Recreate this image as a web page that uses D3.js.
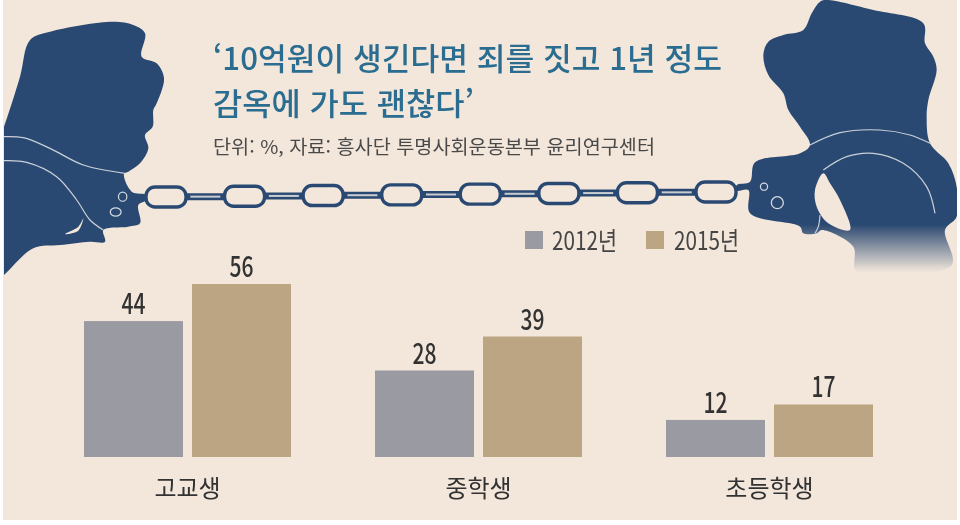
<!DOCTYPE html>
<html lang="ko"><head><meta charset="utf-8">
<script src="https://cdn.jsdelivr.net/npm/d3@7"></script>
<style>
html,body{margin:0;padding:0;background:#fff;overflow:hidden}
svg{display:block}
text{font-family:"Noto Sans CJK KR","Noto Sans",sans-serif}
</style></head><body>
<svg id="c" width="960" height="525"></svg>
<script>
const categories = ["고교생","중학생","초등학생"];
const seriesNames = ["2012년","2015년"];
const values2012 = [44,28,12];
const values2015 = [56,39,17];
const seriesColors = ["#9a9ba2","#bba583"];
const titleLines = ["‘10억원이 생긴다면 죄를 짓고 1년 정도","감옥에 가도 괜찮다’"];
const subtitle = "단위: %, 자료: 흥사단 투명사회운동본부 윤리연구센터";

const navy="#2c4a72", bg="#f3e7db";
const svg=d3.select("#c");
const defs=svg.append("defs");
defs.append("filter").attr("id","soft").append("feGaussianBlur").attr("stdDeviation",0.45);
defs.append("clipPath").attr("id","panel").append("rect").attr("x",4).attr("y",0).attr("width",953).attr("height",520);
const grad=defs.append("linearGradient").attr("id","fade").attr("gradientUnits","userSpaceOnUse")
  .attr("x1",0).attr("x2",0).attr("y1",225).attr("y2",272);
grad.append("stop").attr("offset",0).attr("stop-color",navy);
grad.append("stop").attr("offset",1).attr("stop-color",navy).attr("stop-opacity",0);

svg.append("rect").attr("x",3).attr("y",0).attr("width",954).attr("height",520).attr("fill",bg);

// illustration (outlines traced in 3x zoom coordinates)
const z=(pts,ox=0)=>pts.map(([x,y])=>[x/3+ox,y/3]);
const smooth=d3.line().curve(d3.curveCatmullRom.alpha(0.5));
const closed=d3.line().curve(d3.curveCatmullRomClosed.alpha(0.5));
const art=svg.append("g").attr("clip-path","url(#panel)").append("g").attr("filter","url(#soft)");

const leftHand=[[-40,520],[12,380],[60,230],[90,120],[150,95],[340,65],[400,75],[435,100],[425,170],[470,190],[492,235],[470,310],[460,330],[458,380],[435,405],[445,445],[420,490],[385,515],[372,522],[395,575],[440,585],[440,600],[415,615],[420,670],[385,680],[310,690],[315,725],[270,725],[180,735],[100,745],[12,825],[-40,870],[-60,700]];
art.append("path").attr("d",closed(z(leftHand))).attr("fill",navy);
[[[12,410],[70,413],[150,445],[250,495],[375,520]],[[12,482],[80,487],[170,530],[230,600],[270,660],[310,690]]].forEach(l=>
  art.append("path").attr("d",smooth(z(l))).attr("fill","none").attr("stroke","#c9d0d8").attr("stroke-width",1.2));
art.append("path").attr("d",closed(z([[195,702],[235,680],[250,655],[235,692]]))).attr("fill",bg);
art.append("ellipse").attr("cx",368/3).attr("cy",590/3).attr("rx",4.2).attr("ry",4.6).attr("fill","none").attr("stroke","#d5dae0").attr("stroke-width",1.2);
art.append("ellipse").attr("cx",347/3).attr("cy",636/3).attr("rx",5.4).attr("ry",4.2).attr("fill","none").attr("stroke","#d5dae0").attr("stroke-width",1.2);

const rightHand=[[540,5],[515,40],[490,90],[430,105],[385,125],[370,165],[385,225],[430,280],[445,330],[480,380],[510,435],[480,460],[345,487],[330,545],[290,555],[290,572],[325,570],[330,640],[480,680],[490,700],[530,700],[545,690],[640,740],[650,815],[935,795],[915,690],[950,650],[950,560],[925,490],[870,430],[860,350],[865,300],[890,210],[880,170],[855,130],[850,70],[700,30],[560,0]];
art.append("path").attr("d",closed(z(rightHand,640))).attr("fill","url(#fade)");
art.append("path").attr("d",closed(z([[550,520],[525,570],[530,620],[565,670],[630,690],[600,600],[570,550]],640))).attr("fill",bg);
[[[510,435],[600,398],[720,390],[810,405],[870,430]],[[550,510],[620,470],[700,460],[790,490],[860,560],[885,640]],[[540,645],[535,680],[525,700]]].forEach(l=>
  art.append("path").attr("d",smooth(z(l,640))).attr("fill","none").attr("stroke","#c9d0d8").attr("stroke-width",1.2));
art.append("circle").attr("cx",640+372/3).attr("cy",560/3).attr("r",3.6).attr("fill","none").attr("stroke","#d5dae0").attr("stroke-width",1.2);
art.append("circle").attr("cx",640+412/3).attr("cy",608/3).attr("r",6).attr("fill","none").attr("stroke","#d5dae0").attr("stroke-width",1.3);

// chain
const chainIdx=d3.range(8);
const chainX=d3.scaleLinear().domain([0,7]).range([166,716]);
const chainY=d3.scaleLinear().domain([0,7]).range([197,192]);
chainIdx.slice(0,-1).forEach(i=>{
  const x=chainX(i+0.5),y=chainY(i+0.5);
  art.append("rect").attr("x",x-24).attr("y",y-3.5).attr("width",48).attr("height",7).attr("rx",3).attr("fill",navy);
  art.append("rect").attr("x",x-15).attr("y",y-1).attr("width",30).attr("height",2).attr("fill","#c8ccd0");
});
chainIdx.forEach(i=>{
  art.append("rect").attr("x",chainX(i)-20).attr("y",chainY(i)-10).attr("width",40).attr("height",20).attr("rx",9)
    .attr("fill",bg).attr("stroke",navy).attr("stroke-width",3.4);
});

// titles
const txt=svg.append("g").attr("filter","url(#soft)");
const tw=[509,261];
titleLines.forEach((t,i)=>txt.append("text").text(t).attr("x",213).attr("y",[70,115][i])
  .attr("font-size",31).attr("font-weight",500).attr("fill","#2a6d90").attr("textLength",tw[i]).attr("lengthAdjust","spacingAndGlyphs"));
txt.append("text").text(subtitle).attr("x",213).attr("y",154).attr("font-size",19).attr("fill","#4a4a4a")
  .attr("textLength",442).attr("lengthAdjust","spacingAndGlyphs");

// chart
const x0=d3.scaleBand().domain(categories).range([84,873]).paddingInner(84/291);
const x1=d3.scaleBand().domain(seriesNames).range([0,x0.bandwidth()]).paddingInner(9/108);
const y=d3.scaleLinear().domain([0,56]).range([457,284]);
const rows=categories.map((c,i)=>({c,vals:[values2012[i],values2015[i]]}));
const g=svg.append("g");
const grp=g.selectAll("g.grp").data(rows).join("g").attr("class","grp").attr("transform",d=>`translate(${x0(d.c)},0)`);
const cell=grp.selectAll("g").data(d=>d.vals.map((v,i)=>({v,s:seriesNames[i],i}))).join("g");
cell.append("rect").attr("x",d=>x1(d.s)).attr("y",d=>y(d.v)).attr("width",x1.bandwidth())
  .attr("height",d=>y(0)-y(d.v)).attr("fill",d=>seriesColors[d.i]);
cell.append("text").text(d=>d.v).attr("x",d=>x1(d.s)+x1.bandwidth()/2).attr("y",d=>y(d.v)-7)
  .attr("text-anchor","middle").attr("font-size",28).attr("font-weight",500).attr("fill","#333")
  .attr("textLength",24).attr("lengthAdjust","spacingAndGlyphs").attr("filter","url(#soft)");

const axis=d3.axisBottom(x0).tickSize(0).tickPadding(0);
const ax=g.append("g").attr("transform","translate(0,497)").call(axis);
ax.select(".domain").remove();
ax.selectAll("text").attr("dy",0).attr("y",0).attr("font-size",24).attr("fill","#333")
  .style("font-family",'"Noto Sans CJK KR"').attr("filter","url(#soft)");

// legend
const legX=[525,646], legTx=[552,674];
const leg=svg.append("g").selectAll("g").data(seriesNames).join("g");
leg.append("rect").attr("x",(d,i)=>legX[i]).attr("y",231).attr("width",18).attr("height",18).attr("fill",(d,i)=>seriesColors[i]);
leg.append("text").text(d=>d).attr("x",(d,i)=>legTx[i]).attr("y",250).attr("font-size",25).attr("fill","#444")
  .attr("textLength",65).attr("lengthAdjust","spacingAndGlyphs").attr("filter","url(#soft)");
</script>
</body></html>
